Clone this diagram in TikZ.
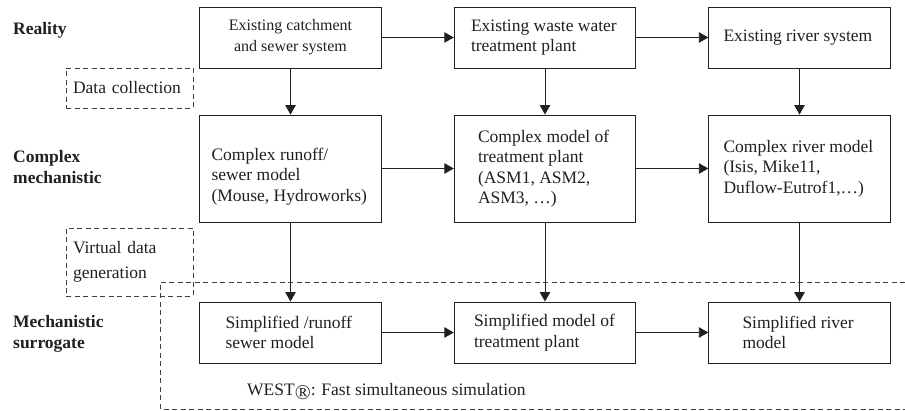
\documentclass[tikz,border=0pt]{standalone}
\usepackage{fontspec}
\setmainfont{Liberation Serif}
\usetikzlibrary{arrows.meta,calc}
\definecolor{ink}{RGB}{35,31,32}
\newcommand\fmain{\fontsize{17.5}{20.5}\selectfont}
\newcommand\fsmall{\fontsize{16}{21}\selectfont}
\begin{document}
\begin{tikzpicture}[x=1pt,y=-1pt,
  box/.style={draw=ink, line width=0.9pt, minimum width=181.5pt, inner sep=0pt},
  txt/.style={anchor=west, align=left, inner sep=0pt, text=ink, font=\fmain},
  lbl/.style={anchor=west, align=left, inner sep=0pt, text=ink, font=\fmain\bfseries},
  dbox/.style={draw=ink!85, line width=0.8pt, dash pattern=on 5pt off 3.5pt, inner ysep=0pt, inner xsep=7pt, text width=113pt, align=left, text=ink, font=\fmain},
  dline/.style={draw=ink!85, line width=0.8pt, dash pattern=on 5pt off 3.5pt},
  arr/.style={draw=ink, line width=0.9pt, -{Triangle[length=9.5pt,width=10.5pt]}}
]
\useasboundingbox (0,0) rectangle (905,411);

% row labels
\node[lbl] (l1) at (13,30) {Reality};
\node[lbl] (l2) at (13,167) {Complex\\mechanistic};
\node[lbl] (l3) at (13,334) {Mechanistic\\surrogate};

% boxes
\node[box, minimum height=61pt] (r1) at (290.5,37.5) {};
\node[box, minimum height=61pt] (r2) at (545,37.5) {};
\node[box, minimum height=61pt] (r3) at (799.5,37.5) {};
\node[box, minimum height=107pt] (c1) at (290.5,168.5) {};
\node[box, minimum height=107pt] (c2) at (545,168.5) {};
\node[box, minimum height=107pt] (c3) at (799.5,168.5) {};
\node[box, minimum height=61pt] (s1) at (290.5,332.5) {};
\node[box, minimum height=61pt] (s2) at (545,332.5) {};
\node[box, minimum height=61pt] (s3) at (799.5,332.5) {};

% box texts
\node[txt, anchor=center, align=center, font=\fsmall] (tr1) at (r1.center) {Existing catchment\\and sewer system};
\node[txt] (tr2) at ($(r2.west)+(17,0)$) {Existing waste water\\treatment plant};
\node[txt] (tr3) at ($(r3.west)+(15,0)$) {Existing river system};
\node[txt] (tc1) at ($(c1.west)+(12,8)$) {Complex runoff/\\sewer model\\(Mouse, Hydroworks)};
\node[txt] (tc2) at ($(c2.west)+(24,0)$) {Complex model of\\treatment plant\\(ASM1, ASM2,\\ASM3, \dots)};
\node[txt] (tc3) at ($(c3.west)+(15,0)$) {Complex river model\\(Isis, Mike11,\\Duflow-Eutrof1,\dots)};
\node[txt] (ts1) at ($(s1.west)+(26,0)$) {Simplified /runoff\\sewer model};
\node[txt] (ts2) at ($(s2.west)+(20,0)$) {Simplified model of\\treatment plant};
\node[txt] (ts3) at ($(s3.west)+(34,0)$) {Simplified river\\model};

% dashed annotation boxes
\node[dbox, minimum height=40pt] (dc) at (129.5,88) {Data collection};
\node[dbox, minimum height=68pt] (vd) at (129.5,262) {Virtual data\\[5pt]generation};

% WEST region
\coordinate (wtr) at (905,282);
\coordinate (wtl) at (160,282);
\coordinate (wbl) at (160,409);
\coordinate (wbr) at (905,409);
\draw[dline] (wtr) -- (wtl) -- (wbl) -- (wbr);
\node[txt] (west) at (247,392) {WEST\raisebox{-4pt}{\scalebox{1.2}{®}}: Fast simultaneous simulation};

% arrows
\draw[arr] (r1) -- (r2);
\draw[arr] (r2) -- (r3);
\draw[arr] (c1) -- (c2);
\draw[arr] (c2) -- (c3);
\draw[arr] (s1) -- (s2);
\draw[arr] (s2) -- (s3);
\draw[arr] (r1) -- (c1);
\draw[arr] (r2) -- (c2);
\draw[arr] (r3) -- (c3);
\draw[arr] (c1) -- (s1);
\draw[arr] (c2) -- (s2);
\draw[arr] (c3) -- (s3);
\end{tikzpicture}
\end{document}
